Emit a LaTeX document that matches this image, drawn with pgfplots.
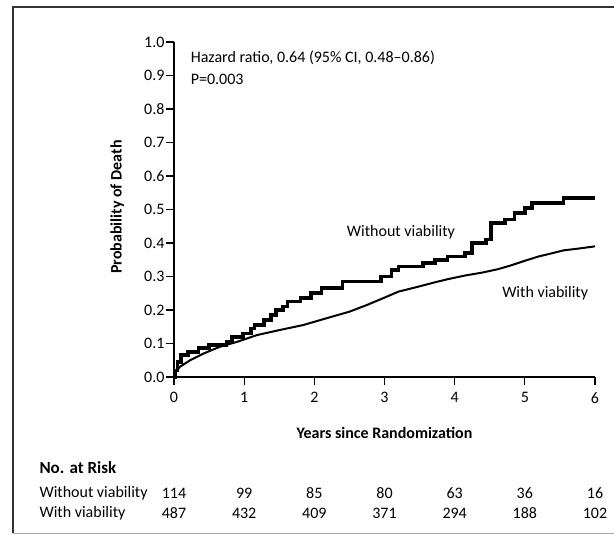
\documentclass[border=0pt]{standalone}
\usepackage{pgfplots}
\pgfplotsset{compat=1.18}
\usepackage{fontspec}
\setmainfont{Carlito}

\begin{document}
\begin{tikzpicture}[x=1bp,y=1bp]
\useasboundingbox (0,0) rectangle (614,-535);
% outer frame (left and top, faint bottom)
\draw[line width=1.6bp, black!80] (13,-533) -- (13,-7) -- (614,-7);
\draw[line width=1bp, black!35] (13,-533) -- (614,-533);

\begin{axis}[
    at={(174bp,-377bp)}, anchor=south west,
    scale only axis, width=421bp, height=335bp,
    xmin=0, xmax=6, ymin=0, ymax=1,
    axis lines=left,
    axis line style={-, line width=1.2bp},
    tick style={line width=1.2bp, black},
    tick align=outside,
    major tick length=8bp,
    xtick={0,1,...,6},
    ytick={0,0.1,...,1.0},
    yticklabel style={/pgf/number format/fixed, /pgf/number format/fixed zerofill,
        /pgf/number format/precision=1, xshift=2bp},
    /pgf/number format/assume math mode=true,
    ticklabel style={font=\fontsize{16bp}{18bp}\selectfont},
    xticklabel style={yshift=-4bp},
    xlabel={\bfseries Years since Randomization},
    ylabel={\bfseries Probability of Death},
    label style={font=\fontsize{16bp}{18bp}\selectfont},
    xlabel style={at={(axis description cs:0.5,-0.167)}, anchor=center},
    ylabel style={at={(axis description cs:-0.135,0.507)}, anchor=center},
    clip=false,
]

% Without viability (thick step curve)
\addplot[const plot, line width=3.6bp, black] coordinates {
    (0,0) (0.02,0.02) (0.05,0.045) (0.1,0.066) (0.2,0.075) (0.35,0.087)
    (0.5,0.095) (0.75,0.105) (0.83,0.12) (0.98,0.13) (1.1,0.145) (1.15,0.155)
    (1.28,0.17) (1.38,0.185) (1.45,0.2) (1.55,0.21) (1.62,0.225) (1.8,0.235)
    (1.95,0.25) (2.1,0.265) (2.4,0.285) (2.95,0.3) (3.1,0.32) (3.2,0.33)
    (3.55,0.34) (3.72,0.35) (3.9,0.36) (4.15,0.37) (4.25,0.40) (4.45,0.41)
    (4.52,0.46) (4.72,0.47) (4.85,0.49) (5.0,0.505) (5.1,0.52) (5.55,0.535)
    (6.0,0.535)
};

% With viability (thin curve)
\addplot[line width=2bp, black] coordinates {
    (0,0) (0.03,0.015) (0.08,0.03) (0.23,0.05) (0.42,0.07) (0.65,0.09)
    (0.9,0.105) (1.18,0.125) (1.5,0.14) (1.84,0.155) (2.2,0.177) (2.5,0.195)
    (2.75,0.215) (3.0,0.237) (3.2,0.255) (3.45,0.268) (3.67,0.28) (3.9,0.292)
    (4.15,0.303) (4.4,0.312) (4.62,0.322) (4.8,0.333) (5.0,0.347) (5.2,0.36)
    (5.36,0.368) (5.55,0.378) (5.75,0.383) (6.0,0.39)
};

\node[anchor=west, font=\fontsize{16bp}{18bp}\selectfont] at (axis cs:0.19,0.952) {Hazard ratio, 0.64 (95\% CI, 0.48--0.86)};
\node[anchor=west, font=\fontsize{16bp}{18bp}\selectfont] at (axis cs:0.19,0.887) {P=0.003};
\node[font=\fontsize{16bp}{18bp}\selectfont] at (axis cs:3.235,0.433) {Without viability};
\node[font=\fontsize{16bp}{18bp}\selectfont] at (axis cs:5.29,0.251) {With viability};
\end{axis}

% number at risk table
\node[anchor=west, font=\fontsize{17bp}{19bp}\selectfont\bfseries] at (36,-468) {No. at Risk};
\node[anchor=west, font=\fontsize{16bp}{18bp}\selectfont] at (36,-493) {Without viability};
\node[anchor=west, font=\fontsize{16bp}{18bp}\selectfont] at (36,-513) {With viability};
\foreach \n [count=\i from 0] in {114,99,85,80,63,36,16}
    \node[font=\fontsize{16bp}{18bp}\selectfont] at (174+70.17*\i,-493) {\n};
\foreach \n [count=\i from 0] in {487,432,409,371,294,188,102}
    \node[font=\fontsize{16bp}{18bp}\selectfont] at (174+70.17*\i,-513) {\n};
\end{tikzpicture}
\end{document}
